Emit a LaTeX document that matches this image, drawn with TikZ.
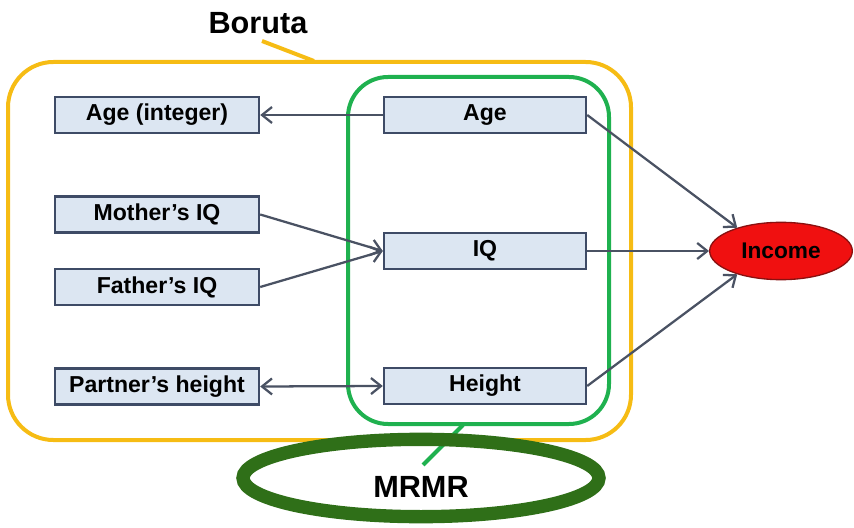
\documentclass[tikz,border=0pt]{standalone}
\usepackage{fontspec}
\setmainfont{Liberation Sans}
\usetikzlibrary{arrows.meta,shapes.geometric}
\definecolor{boxfill}{HTML}{DCE6F2}
\definecolor{boxline}{HTML}{3E4B66}
\definecolor{arrowc}{HTML}{4A5263}
\definecolor{borutac}{HTML}{F6BC14}
\definecolor{mrmrc}{HTML}{1FB14F}
\definecolor{ringc}{HTML}{2F6F18}
\definecolor{incred}{HTML}{F01010}
\definecolor{incline}{HTML}{8A1010}
\tikzset{
  feat/.style={draw=boxline, line width=1.8pt, fill=boxfill, minimum height=27pt,
    inner sep=0pt, font=\fontsize{17.3}{18}\selectfont\bfseries},
  leftbox/.style={feat, minimum width=153pt},
  rightbox/.style={feat, minimum width=151.5pt},
  tipA/.style={Straight Barb[length=7.5pt,width=12pt,line width=1.7pt]},
  conn/.style={draw=arrowc, line width=1.7pt, -{Straight Barb[length=7.5pt,width=12pt,line width=1.7pt]}},
  biconn/.style={draw=arrowc, line width=1.7pt, {Straight Barb[length=7.5pt,width=12pt,line width=1.7pt]}-{Straight Barb[length=7.5pt,width=12pt,line width=1.7pt]}},
  biglabel/.style={font=\fontsize{23}{24}\selectfont\bfseries, inner sep=0pt},
}
\begin{document}
\begin{tikzpicture}[x=0.75pt,y=-0.75pt]
\useasboundingbox (0,0) rectangle (854,528);
% group outlines
\draw[borutac, line width=3pt, rounded corners=34pt] (8,62) rectangle (631,440);
\draw[mrmrc, line width=3pt, rounded corners=30pt] (348,77) rectangle (609,424);
% nodes
\node[leftbox] (ageint) at (157,115) {Age (integer)};
\node[leftbox] (mother) at (157,214.5) {Mother’s IQ};
\node[leftbox] (father) at (157,287) {Father’s IQ};
\node[leftbox] (partner) at (157,386.5) {Partner’s height};
\node[rightbox] (age) at (485,115) {Age};
\node[rightbox] (iq) at (485,251) {IQ};
\node[rightbox] (height) at (485,386) {Height};
\node[ellipse, draw=incline, line width=1pt, fill=incred, minimum width=107pt,
  minimum height=43pt, inner sep=0pt, font=\fontsize{17}{18}\selectfont\bfseries]
  (income) at (781,251) {Income};
% labels
\node[biglabel] (boruta) at (258,23) {Boruta};
\coordinate (borutatip) at (314,61);
\draw[borutac, line width=3pt] (262,41) -- (borutatip);
\node[biglabel] (mrmr) at (421,487) {MRMR};
\coordinate (mrmrtip) at (463,425);
\draw[mrmrc, line width=3pt] (423,465) -- (mrmrtip);
\draw[ringc, line width=10pt] (421,478) ellipse [x radius=133.5pt, y radius=29pt];
% connectors
\draw[conn] (age.west) -- (ageint.east);
\draw[conn] (mother.east) -- (iq.west);
\draw[conn] (father.east) -- (iq.west);
\draw[biconn] (partner.east) -- (height.west);
\draw[conn] (age.east) -- (income.152);
\draw[conn] (iq.east) -- (income.west);
\draw[conn] (height.east) -- (income.208);
\end{tikzpicture}
\end{document}
